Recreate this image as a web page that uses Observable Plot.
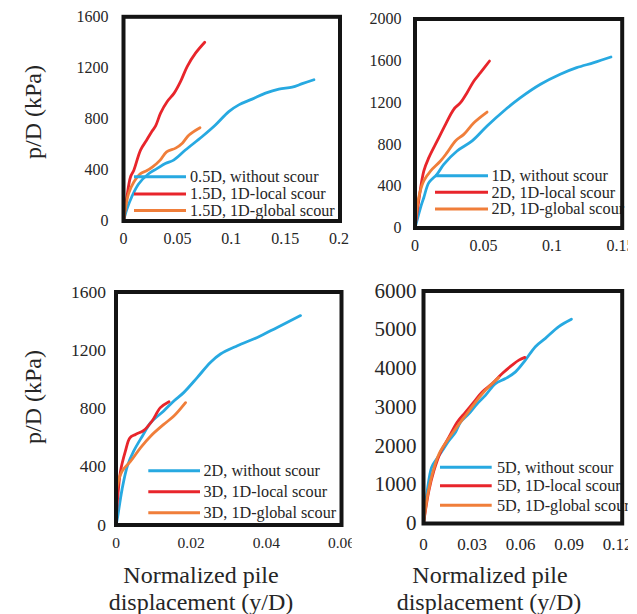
<!DOCTYPE html>
<html>
<head>
<meta charset="utf-8">
<script src="https://cdn.jsdelivr.net/npm/d3@7"></script>
<script src="https://cdn.jsdelivr.net/npm/@observablehq/plot@0.6"></script>
<style>
  html, body { margin: 0; padding: 0; background: #fff; }
  #root { position: relative; width: 637px; height: 614px; overflow: hidden;
          font-family: "Liberation Serif", "Times New Roman", Times, serif; color: #262626; }
  .panel { position: absolute; overflow: hidden; }
  .panel svg, .panel svg text { font-family: "Liberation Serif", "Times New Roman", Times, serif !important; }
  .title { position: absolute; white-space: nowrap; line-height: 1; font-size: 24px; }
</style>
</head>
<body>
<div id="root"></div>
<script>
// ---------------- DATA ----------------
const seriesColors = ["#27A9E1", "#E8252B", "#F07E3A"];

// Panel 1 (top-left)
const p1Labels = ["0.5D, without scour", "1.5D, 1D-local scour", "1.5D, 1D-global scour"];
const p1XTicks = [0, 0.05, 0.1, 0.15, 0.2];
const p1YTicks = [0, 400, 800, 1200, 1600];
const p1BlueX = [0, 0.003, 0.0077, 0.014, 0.0233, 0.031, 0.0388, 0.0465, 0.0574, 0.0728, 0.0853, 0.0977, 0.107, 0.1194, 0.1318, 0.1442, 0.1566, 0.1659, 0.1767];
const p1BlueY = [0, 90, 190, 290, 370, 410, 451, 477, 556, 660, 752, 857, 910, 955, 1002, 1034, 1049, 1076, 1107];
const p1RedX = [0, 0.003, 0.0065, 0.0096, 0.0158, 0.0214, 0.026, 0.0298, 0.0344, 0.0406, 0.047, 0.053, 0.0592, 0.067, 0.0754];
const p1RedY = [0, 180, 345, 398, 556, 633, 698, 745, 845, 936, 1002, 1094, 1212, 1317, 1401];
const p1OrangeX = [0, 0.0047, 0.0096, 0.0158, 0.0214, 0.027, 0.0338, 0.040, 0.0484, 0.0546, 0.0608, 0.071];
const p1OrangeY = [0, 214, 306, 372, 393, 424, 475, 542, 571, 610, 674, 731];

// Panel 2 (top-right)
const p2Labels = ["1D, without scour", "2D, 1D-local scour", "2D, 1D-global scour"];
const p2XTicks = [0, 0.05, 0.1, 0.15];
const p2YTicks = [0, 400, 800, 1200, 1600, 2000];
const p2BlueX = [0, 0.004, 0.0064, 0.0101, 0.016, 0.021, 0.0307, 0.0417, 0.0526, 0.0648, 0.077, 0.0916, 0.106, 0.118, 0.1305, 0.143];
const p2BlueY = [0, 194, 290, 434, 514, 609, 737, 833, 976, 1120, 1247, 1375, 1471, 1534, 1582, 1636];
const p2RedX = [0, 0.0027, 0.0064, 0.0101, 0.0162, 0.0223, 0.0283, 0.0332, 0.038, 0.043, 0.0478, 0.0544];
const p2RedY = [0, 258, 545, 673, 833, 992, 1136, 1199, 1295, 1407, 1486, 1598];
const p2OrangeX = [0, 0.0027, 0.0064, 0.0113, 0.0186, 0.0234, 0.0295, 0.0356, 0.043, 0.0526];
const p2OrangeY = [0, 290, 450, 545, 641, 721, 833, 896, 1008, 1110];

// Panel 3 (bottom-left)
const p3Labels = ["2D, without scour", "3D, 1D-local scour", "3D, 1D-global scour"];
const p3XTicks = [0, 0.02, 0.04, 0.06];
const p3YTicks = [0, 400, 800, 1200, 1600];
const p3BlueX = [0, 0.0003, 0.0016, 0.0030, 0.0047, 0.0070, 0.0092, 0.0127, 0.0154, 0.0180, 0.0216, 0.0251, 0.0278, 0.0323, 0.0376, 0.0429, 0.0491];
const p3BlueY = [0, 36, 243, 403, 507, 610, 702, 783, 852, 909, 1012, 1116, 1174, 1231, 1288, 1357, 1438];
const p3RedX = [0, 0.0003, 0.0012, 0.0025, 0.0037, 0.0052, 0.0074, 0.0096, 0.0118, 0.0141];
const p3RedY = [0, 139, 369, 507, 599, 622, 650, 714, 806, 847];
const p3OrangeX = [0, 0.0001, 0.0016, 0.0039, 0.0065, 0.0092, 0.0127, 0.0154, 0.0185];
const p3OrangeY = [0, 231, 369, 438, 530, 610, 691, 748, 840];

// Panel 4 (bottom-right)
const p4Labels = ["5D, without scour", "5D, 1D-local scour", "5D, 1D-global scour"];
const p4XTicks = [0, 0.03, 0.06, 0.09, 0.12];
const p4YTicks = [0, 1000, 2000, 3000, 4000, 5000, 6000];
const p4BlueX = [0, 0.0023, 0.005, 0.0074, 0.0116, 0.0157, 0.0198, 0.0229, 0.028, 0.0332, 0.0383, 0.0445, 0.0507, 0.0569, 0.063, 0.0692, 0.0754, 0.0837, 0.0915];
const p4BlueY = [0, 839, 1446, 1618, 1878, 2138, 2355, 2615, 2831, 3091, 3307, 3610, 3740, 3914, 4215, 4563, 4779, 5082, 5272];
const p4RedX = [0, 0.0033, 0.0064, 0.0105, 0.0157, 0.0208, 0.026, 0.0311, 0.0363, 0.0425, 0.0487, 0.0548, 0.059, 0.0627];
const p4RedY = [0, 839, 1358, 1836, 2226, 2615, 2875, 3134, 3394, 3610, 3870, 4086, 4215, 4286];
const p4OrangeX = [0, 0.0023, 0.0054, 0.0095, 0.0146, 0.0198, 0.026, 0.0322, 0.0383, 0.0466];
const p4OrangeY = [0, 662, 1268, 1787, 2138, 2442, 2788, 3134, 3437, 3766];

const yTitle = "p/D (kPa)";
const xTitleLines = ["Normalized pile", "displacement (y/D)"];

// ---------------- LAYOUT ----------------
const FONT = '"Liberation Serif", "Times New Roman", Times, serif';
const root = document.getElementById("root");

function rows(xs, ys, name) { return xs.map((x, i) => ({x, y: ys[i], name})); }

const panels = [
  { box: {left: 0, top: 0, w: 350, h: 262}, frame: {l: 123, r: 339.5, t: 16.3, b: 220.5}, xMaxPx: 338.5,
    xDomain: [0, 0.2], yDomain: [0, 1600], xTicks: p1XTicks, yTicks: p1YTicks,
    xFont: 16, yFont: 16, xPad: 11.5, yPad: 15,
    labels: p1Labels, series: [[p1BlueX, p1BlueY], [p1RedX, p1RedY], [p1OrangeX, p1OrangeY]],
    legend: {x0: 134, x1: 186, ys: [176.7, 194, 210.5], tx: 190} },
  { box: {left: 350, top: 0, w: 278, h: 262}, frame: {l: 414.5, r: 621.7, t: 18.5, b: 227.5}, xMaxPx: 620,
    xDomain: [0, 0.15], yDomain: [0, 2000], xTicks: p2XTicks, yTicks: p2YTicks,
    xFont: 16, yFont: 16, xPad: 11.5, yPad: 13.5,
    labels: p2Labels, series: [[p2BlueX, p2BlueY], [p2RedX, p2RedY], [p2OrangeX, p2OrangeY]],
    legend: {x0: 435, x1: 488, ys: [175.7, 192.3, 209], tx: 491.5} },
  { box: {left: 0, top: 262, w: 352, h: 300}, frame: {l: 115.5, r: 341, t: 291.5, b: 524.5}, xMaxPx: 341,
    xDomain: [0, 0.06], yDomain: [0, 1600], xTicks: p3XTicks, yTicks: p3YTicks,
    xFont: 15.5, yFont: 17.5, xPad: 11.5, yPad: 10,
    labels: p3Labels, series: [[p3BlueX, p3BlueY], [p3RedX, p3RedY], [p3OrangeX, p3OrangeY]],
    legend: {x0: 148.3, x1: 200, ys: [470.7, 491.7, 512.7], tx: 203.5} },
  { box: {left: 352, top: 262, w: 276, h: 300}, frame: {l: 423, r: 621.7, t: 290.5, b: 523}, xMaxPx: 617,
    xDomain: [0, 0.12], yDomain: [0, 6000], xTicks: p4XTicks, yTicks: p4YTicks,
    xFont: 17, yFont: 21, xPad: 14, yPad: 7,
    labels: p4Labels, series: [[p4BlueX, p4BlueY], [p4RedX, p4RedY], [p4OrangeX, p4OrangeY]],
    legend: {x0: 440, x1: 491.7, ys: [467.3, 485.7, 505.3], tx: 497} }
];

const fmt = d => String(d);
const hasAxisMarks = typeof Plot.axisX === "function";

for (const p of panels) {
  const {box, frame} = p;
  const marginLeft = frame.l - box.left;
  const marginRight = box.left + box.w - frame.r;
  const marginTop = frame.t - box.top;
  const marginBottom = box.top + box.h - frame.b;
  const data = p.series.flatMap(([xs, ys], i) => rows(xs, ys, p.labels[i]));

  const lineMarks = p.labels.map((name, i) =>
    Plot.line(data.filter(d => d.name === name), {
      x: "x", y: "y", stroke: seriesColors[i], strokeWidth: 2.8,
      curve: "catmull-rom", strokeLinejoin: "round", strokeLinecap: "round"
    }));

  const axisMarks = hasAxisMarks ? [
    Plot.axisX({ticks: p.xTicks, tickFormat: fmt, tickSize: 0, tickPadding: p.xPad, fontSize: p.xFont, label: null, fill: "#262626"}),
    Plot.axisY({ticks: p.yTicks, tickFormat: fmt, tickSize: 0, tickPadding: p.yPad, fontSize: p.yFont, label: null, fill: "#262626"})
  ] : [];

  const chart = Plot.plot({
    width: box.w, height: box.h,
    marginLeft, marginRight, marginTop, marginBottom,
    style: {fontFamily: FONT, fontSize: p.xFont + "px", background: "transparent", color: "#262626", overflow: "visible"},
    x: Object.assign({domain: p.xDomain, range: [marginLeft, p.xMaxPx - box.left]},
      hasAxisMarks ? {} : {ticks: p.xTicks, tickFormat: fmt, tickSize: 0, tickPadding: p.xPad, label: null}),
    y: Object.assign({domain: p.yDomain},
      hasAxisMarks ? {} : {ticks: p.yTicks, tickFormat: fmt, tickSize: 0, tickPadding: p.yPad, label: null}),
    marks: [
      ...axisMarks,
      ...lineMarks,
      Plot.frame({stroke: "#141414", strokeWidth: 4})
    ]
  });

  const div = document.createElement("div");
  div.className = "panel";
  Object.assign(div.style, {left: box.left + "px", top: box.top + "px", width: box.w + "px", height: box.h + "px"});
  div.appendChild(chart);
  root.appendChild(div);

  const svgNode = chart.tagName.toLowerCase() === "svg" ? chart : chart.querySelector("svg");
  const svg = d3.select(svgNode);
  svg.attr("font-family", FONT).style("font-family", FONT);
  if (!hasAxisMarks) {
    svg.selectAll('g[aria-label^="y-axis"]').attr("font-size", p.yFont);
  }
  // legend (drawn inside the plot's svg, then frame raised above it)
  const lg = svg.append("g").attr("class", "legend").attr("text-anchor", "start");
  p.labels.forEach((name, i) => {
    const y = p.legend.ys[i] - box.top;
    lg.append("line")
      .attr("x1", p.legend.x0 - box.left).attr("x2", p.legend.x1 - box.left)
      .attr("y1", y).attr("y2", y)
      .attr("stroke", seriesColors[i]).attr("stroke-width", 3);
    lg.append("text")
      .attr("x", p.legend.tx - box.left).attr("y", y).attr("dy", "0.33em")
      .attr("text-anchor", "start")
      .attr("font-size", 16.2).attr("font-family", FONT).attr("fill", "#262626")
      .text(name);
  });
  const fr = svgNode.querySelector('[aria-label="frame"]');
  if (fr) svgNode.appendChild(fr);
}

// axis titles
function addTitle(text, cx, cy, rotate) {
  const t = document.createElement("div");
  t.className = "title";
  t.textContent = text;
  Object.assign(t.style, {left: cx + "px", top: cy + "px",
    transform: "translate(-50%, -50%)" + (rotate ? " rotate(-90deg)" : "")});
  root.appendChild(t);
}
addTitle(yTitle, 33, 112, true);
addTitle(yTitle, 33, 397, true);
addTitle(xTitleLines[0], 201, 575, false);
addTitle(xTitleLines[1], 201, 602, false);
addTitle(xTitleLines[0], 490, 575, false);
addTitle(xTitleLines[1], 489, 602, false);
</script>
</body>
</html>
